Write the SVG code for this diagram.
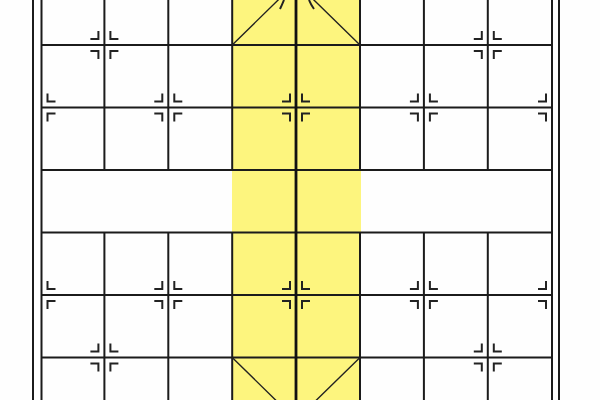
<svg xmlns="http://www.w3.org/2000/svg" xmlns:xlink="http://www.w3.org/1999/xlink" width="600" height="400" viewBox="0 0 600 400">
<style>
.g{stroke:#1b1b1b;stroke-width:2;fill:none}
.c{stroke:#111;stroke-width:2.8;fill:none}
.m{stroke:#222;stroke-width:2;fill:none}
.d{stroke:#222;stroke-width:1.4;fill:none}
.y{fill:#fdf57e}
</style>
<defs>
<g id="mL"><path class="m" d="M-14,-6H-6V-14M-14,6H-6V14"/></g>
<g id="mR"><path class="m" d="M14,-6H6V-14M14,6H6V14"/></g>
<g id="mk"><use xlink:href="#mL"/><use xlink:href="#mR"/></g>
</defs>
<rect width="600" height="400" fill="#fefefe"/>
<g id="palace-fill">
<rect class="y" x="232" y="0" width="129" height="400"/>
</g>
<g id="grid">
<path class="g" d="M33,0V400M559,0V400"/>
<path class="g" d="M41.5,0V400M552,0V400"/>
<path class="g" d="M104.4,0V170M168.3,0V170M232.2,0V170M360,0V170M423.9,0V170M487.8,0V170"/>
<path class="g" d="M104.4,232.5V400M168.3,232.5V400M232.2,232.5V400M360,232.5V400M423.9,232.5V400M487.8,232.5V400"/>
<path class="g" d="M41.5,45H552M41.5,107.5H552M41.5,170H552M41.5,232.5H552M41.5,295H552M41.5,357.5H552"/>
<path class="c" d="M296,0V400"/>
</g>
<g id="palace-diagonals">
<path class="d" d="M232.2,45L296,-17.5L360,45"/>
<path class="d" d="M232.2,357.5L296,420L360,357.5"/>
<path class="m" stroke-width="2.6" d="M284,0Q282,5 280,9M309,0Q311,5 314,9"/>
</g>
<g id="markers">
<use xlink:href="#mk" x="104.4" y="45"/>
<use xlink:href="#mk" x="487.8" y="45"/>
<use xlink:href="#mR" x="41.5" y="107.5"/>
<use xlink:href="#mk" x="168.3" y="107.5"/>
<use xlink:href="#mk" x="296" y="107.5"/>
<use xlink:href="#mk" x="423.9" y="107.5"/>
<use xlink:href="#mL" x="552" y="107.5"/>
<use xlink:href="#mR" x="41.5" y="295"/>
<use xlink:href="#mk" x="168.3" y="295"/>
<use xlink:href="#mk" x="296" y="295"/>
<use xlink:href="#mk" x="423.9" y="295"/>
<use xlink:href="#mL" x="552" y="295"/>
<use xlink:href="#mk" x="104.4" y="357.5"/>
<use xlink:href="#mk" x="487.8" y="357.5"/>
</g>
</svg>
